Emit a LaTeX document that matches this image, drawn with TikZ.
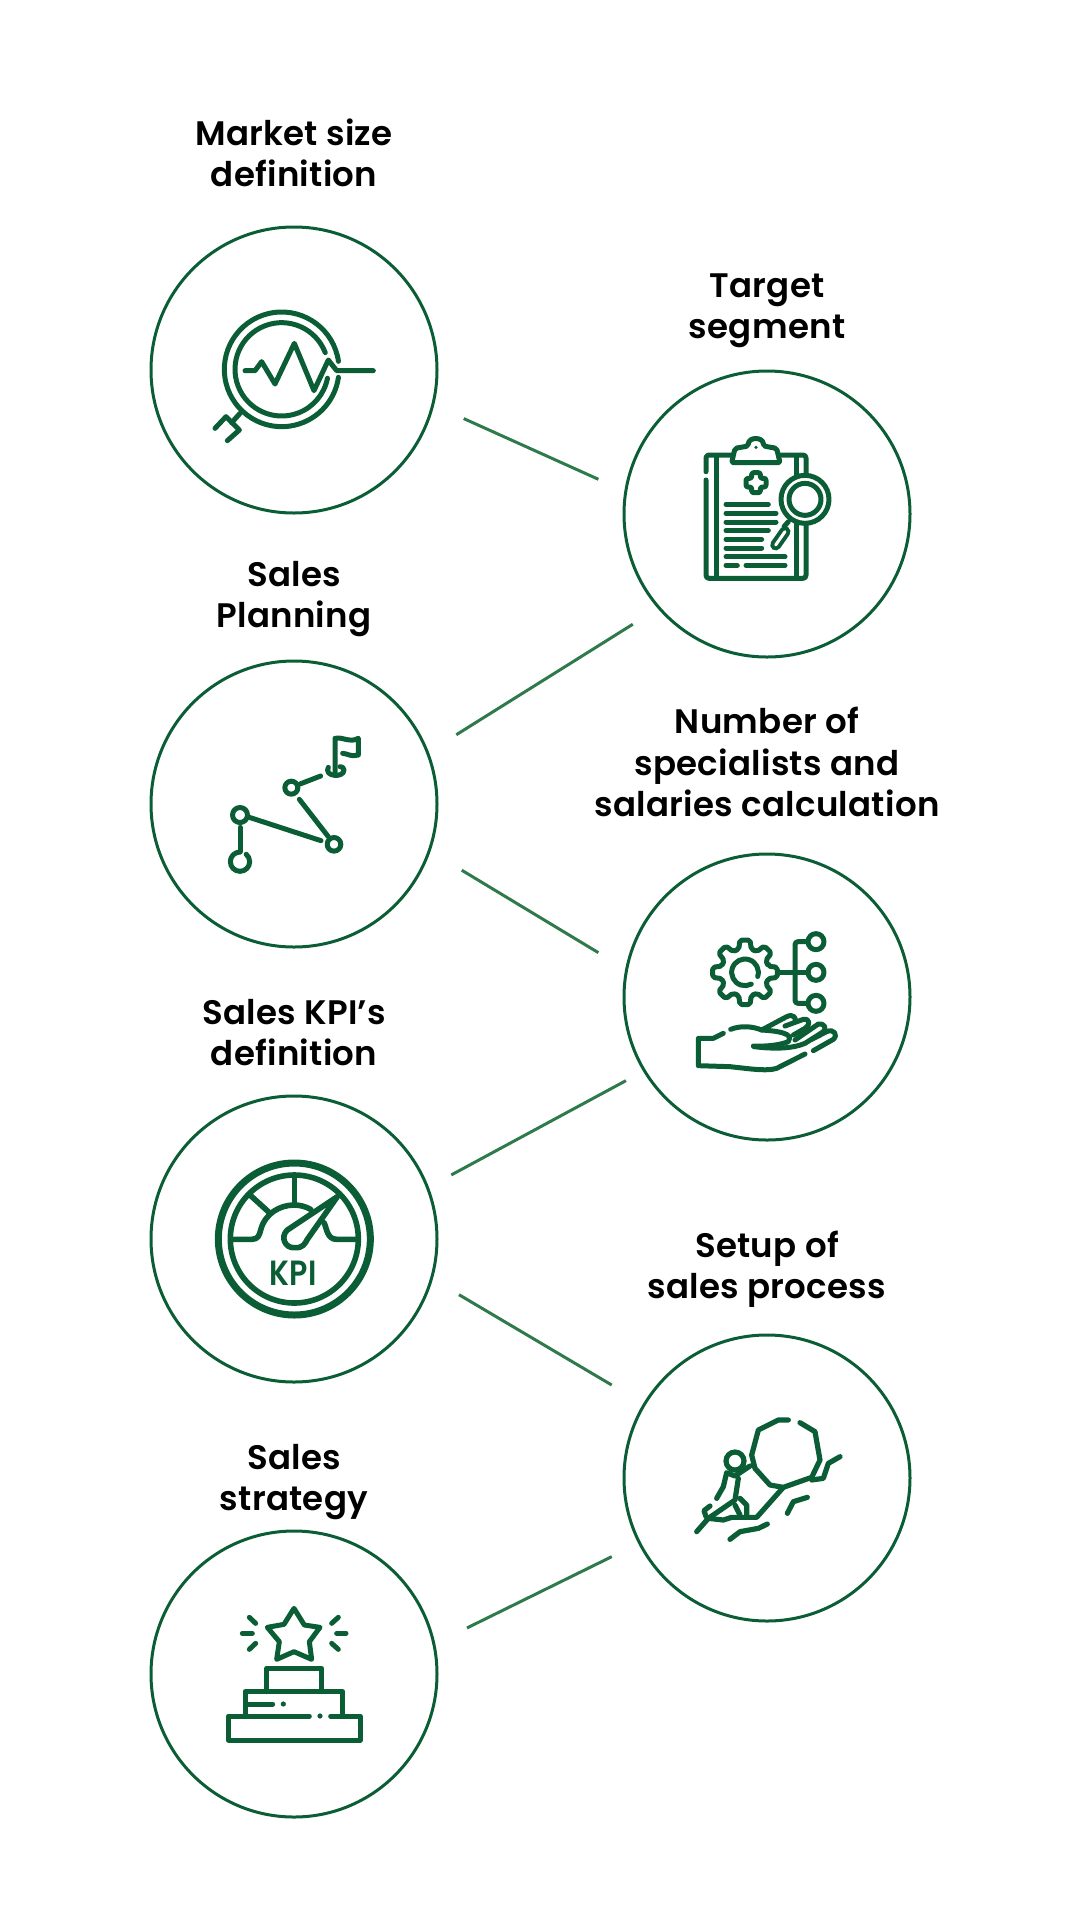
\documentclass[tikz,border=0pt]{standalone}
\usepackage{fontspec}
\setmainfont{Poppins SemiBold}[LetterSpace=0.8]
\usepackage{xcolor}
\usetikzlibrary{positioning}
\definecolor{brand}{HTML}{0B5D35}
\definecolor{linkgreen}{HTML}{2F7A4B}
\newcommand{\ringarc}[5]{(#1,#2) ++(-#4:#3) arc[start angle=#4, end angle=#5, radius=#3pt/3]}

\begin{document}
\begin{tikzpicture}[
  x=1pt, y=-1pt,
  stage/.style={draw=brand, circle, line width=3pt, minimum size=286pt, inner sep=0pt, outer sep=0pt},
  caption/.style={align=center, inner sep=0pt, text depth=0pt, font=\fontsize{34}{41.5}\selectfont},
  link/.style={draw=linkgreen, line width=3pt},
  icon/.style={draw=brand, line width=5pt, line cap=round, line join=round},
  crop/.style={x=1pt/3, y=-1pt/3}
]
  \useasboundingbox (0,0) rectangle (1080,1920);

  \node[stage] (market) at (294,370) {};
  \node[stage] (planning) at (294,804) {};
  \node[stage] (kpi) at (294,1239) {};
  \node[stage] (strategy) at (294,1674) {};
  \node[stage] (target) at (767,514) {};
  \node[stage] (number) at (767,997) {};
  \node[stage] (setup) at (767,1478) {};

  \node[caption, above=40pt of market] (marketlabel) {Market size\\definition};
  \node[caption, above=32pt of target] (targetlabel) {Target\\segment};
  \node[caption, above=33pt of planning] (planninglabel) {Sales\\Planning};
  \node[caption, above=37pt of number] (numberlabel) {Number of\\specialists and\\salaries calculation};
  \node[caption, above=30pt of kpi] (kpilabel) {Sales KPI’s\\definition};
  \node[caption, above=36pt of setup] (setuplabel) {Setup of\\sales process};
  \node[caption, above=20pt of strategy] (strategylabel) {Sales\\strategy};

  \draw[link, shorten <=34pt, shorten >=30pt] (market.-14.8) -- (target.171);
  \draw[link, shorten <=31pt, shorten >=34pt] (target.221) -- (planning.21.9);
  \draw[link, shorten <=38pt, shorten >=33pt] (planning.-19.6) -- (number.169.2);
  \draw[link, shorten <=21pt, shorten >=27pt] (number.211) -- (kpi.21.5);
  \draw[link, shorten <=32pt, shorten >=38pt] (kpi.-16.2) -- (setup.149);
  \draw[link, shorten <=31pt, shorten >=37pt] (setup.207) -- (strategy.12.9);

  % magnifier with pulse line
  \begin{scope}[shift={(190,280)}, crop, every path/.style={icon}]
    \draw \ringarc{275}{268}{172}{8}{352};
    \draw \ringarc{275}{268}{140}{21}{349};
    \draw (165,272) -- (195,272) -- (215,245) -- (255,312) -- (313,190) -- (372,332) -- (415,240) -- (440,272) -- (550,272);
    \draw (150,400) -- (125,428);
    \draw (75,445) -- (108,410) -- (148,450) -- (112,482);
  \end{scope}

  % clipboard
  \begin{scope}[shift={(680,420)}, crop, every path/.style={icon}]
    \draw[rounded corners=3pt] (78,155) -- (78,105) -- (158,105);
    \draw[rounded corners=3pt] (298,105) -- (378,105) -- (378,165);
    \draw[rounded corners=3pt] (378,315) -- (378,475) -- (78,475) -- (78,180);
    \draw (108,108) -- (108,475);
    \draw (348,108) -- (348,170);
    \draw (348,305) -- (348,475);
    \draw[rounded corners=2pt] (155,128) -- (165,85) -- (205,78) .. controls (205,50) and (250,50) .. (250,78) -- (290,85) -- (300,128) -- cycle;
    \fill[brand, draw=none] (228,82) circle[radius=1.8pt];
    \draw[rounded corners=2pt] (215,158) -- (241,158) -- (241,175) -- (258,175) -- (258,201) -- (241,201) -- (241,218) -- (215,218) -- (215,201) -- (198,201) -- (198,175) -- (215,175) -- cycle;
    \foreach \ya/\xb in {253/265, 280/288, 306/288, 332/265, 358/245, 384/245, 410/315}
      \draw (138,\ya) -- (\xb,\ya);
    \draw (138,436) -- (172,436);
    \draw (198,436) -- (315,436);
    \draw (375,238) circle[radius=24pt];
    \draw (375,238) circle[radius=16pt];
    \draw (325,305) -- (312,320);
    \draw[line width=11pt] (315,335) -- (287,375);
    \draw[draw=white, line width=3pt] (315,335) -- (287,375);
  \end{scope}

  % route with flag
  \begin{scope}[shift={(190,720)}, crop, every path/.style={icon}]
    \draw (150,322) -- (150,395);
    \draw \ringarc{150}{425}{29}{90}{410};
    \draw (150,285) circle[radius=7.5pt];
    \draw (178,292) -- (393,362);
    \draw (432,373) circle[radius=6.8pt];
    \draw (415,350) -- (328,238);
    \draw (304,203) circle[radius=6.5pt];
    \draw (330,192) -- (392,168);
    \draw (435,165) -- (435,55) .. controls (465,50) and (475,70) .. (505,55) -- (505,105) .. controls (485,112) and (470,100) .. (458,100);
    \draw (415,142) .. controls (400,170) and (462,175) .. (462,150) .. controls (462,142) and (455,140) .. (450,140);
  \end{scope}

  % gear over open hand
  \begin{scope}[shift={(680,920)}, crop, every path/.style={icon}]
    \begin{scope}[shift={(195,157)}]
      \draw[rounded corners=2pt] (-15:72) \foreach \a in {0,45,...,315} { -- (\a-15:72) -- (\a-9:98) -- (\a+9:98) -- (\a+15:72) } -- cycle;
    \end{scope}
    \draw \ringarc{195}{157}{40}{-18}{298};
    \draw (298,157) -- (385,157);
    \draw[rounded corners=3pt] (382,65) -- (345,65) -- (345,250) -- (382,250);
    \foreach \yc in {65,157,250}
      \draw (408,\yc) circle[radius=8pt];
    \draw (130,340) -- (100,355) -- (55,355) -- (55,437) -- (150,440) .. controls (200,445) and (260,455) .. (290,445) -- (375,402);
    \draw (400,392) -- (460,358) .. controls (475,345) and (462,325) .. (440,335) -- (395,358);
    \draw (152,328) .. controls (185,315) and (220,320) .. (245,330) -- (320,290) .. controls (340,280) and (350,295) .. (345,305);
    \draw (245,330) .. controls (330,335) and (335,350) .. (325,365) .. controls (300,375) and (260,380) .. (220,378);
    \draw (315,318) -- (370,298) .. controls (390,295) and (392,315) .. (375,325) -- (340,345);
    \draw (345,360) -- (415,312) .. controls (435,310) and (440,325) .. (430,335) -- (375,370) .. controls (340,385) and (290,388) .. (222,380);
  \end{scope}

  % speedometer
  \begin{scope}[shift={(200,1150)}, crop, every path/.style={icon, line width=5.6pt}]
    \draw[line width=7pt] (283,267) circle[radius=76pt];
    \draw (283,267) circle[radius=64pt];
    \draw (95,268) -- (155,268) .. controls (175,268) and (178,255) .. (182,240) .. controls (195,190) and (240,165) .. (283,165) .. controls (300,165) and (318,170) .. (332,178);
    \draw (372,218) .. controls (380,232) and (380,268) .. (410,268) -- (475,268);
    \draw (283,85) -- (283,160);
    \draw (150,135) -- (205,185);
    \draw (412,140) -- (262,240) .. controls (240,260) and (255,295) .. (283,293) .. controls (310,295) and (315,280) .. (322,268) -- cycle;
    \node[text=brand, inner sep=0pt, xscale=0.86, transform shape, font=\fontsize{35}{35}\selectfont] (kpitext) at (280,370) {KPI};
  \end{scope}

  % figure pushing a boulder
  \begin{scope}[shift={(680,1400)}, crop, every path/.style={icon, line width=5.2pt}]
    \draw (360,68) -- (405,95) -- (420,180) -- (395,232) -- (310,262) -- (270,255) -- (225,205) -- (215,165) -- (235,90) -- (295,60) -- (325,60);
    \draw (165,183) circle[radius=9pt];
    \draw (210,198) -- (165,228) -- (140,218) -- (130,260) -- (110,295);
    \draw (175,235) -- (165,300) -- (85,355);
    \draw (50,395) -- (85,355) -- (130,360) -- (155,352) -- (230,352) -- (310,262);
    \draw (90,318) -- (72,332) -- (78,350);
    \draw (180,295) -- (200,315) -- (200,345);
    \draw (165,315) -- (180,345);
    \draw (395,240) -- (430,235) -- (445,190) -- (480,170);
    \draw (322,340) -- (340,305) -- (382,292);
    \draw (150,418) -- (180,395) -- (235,385) -- (262,372);
  \end{scope}

  % star on a podium
  \begin{scope}[shift={(210,1590)}, crop, every path/.style={icon}]
    \draw (252,55) -- (283,105) -- (330,112) -- (298,155) -- (305,208) -- (252,185) -- (200,208) -- (208,155) -- (172,112) -- (222,103) -- cycle;
    \draw (118,82) -- (137,100);
    \draw (97,130) -- (127,130);
    \draw (118,178) -- (137,160);
    \draw (385,82) -- (365,100);
    \draw (380,130) -- (408,130);
    \draw (385,178) -- (365,160);
    \draw (170,305) -- (170,235) -- (335,235) -- (335,305);
    \draw (105,375) -- (105,305) -- (398,305) -- (398,375);
    \draw (115,342) -- (188,342);
    \fill[brand, draw=none] (220,342) circle[radius=2.6pt];
    \draw (298,378) -- (55,378) -- (55,450) -- (450,450) -- (450,378) -- (362,378);
    \fill[brand, draw=none] (330,378) circle[radius=2.6pt];
  \end{scope}
\end{tikzpicture}
\end{document}
